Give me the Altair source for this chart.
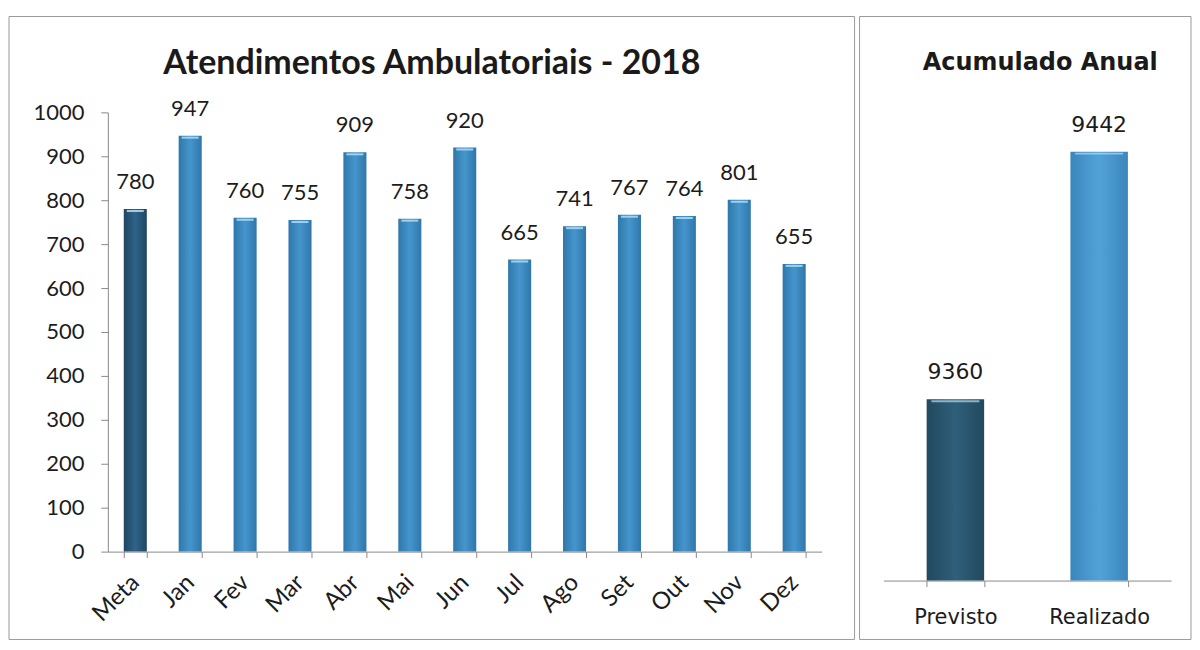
import altair as alt
import pandas as pd

# ---- data ----
months = ["Meta", "Jan", "Fev", "Mar", "Abr", "Mai", "Jun", "Jul", "Ago", "Set", "Out", "Nov", "Dez"]
attendances = [780, 947, 760, 755, 909, 758, 920, 665, 741, 767, 764, 801, 655]

acc_labels = ["Previsto", "Realizado"]
acc_values = [9360, 9442]

left_df = pd.DataFrame({"cat": months, "val": attendances})
right_df = pd.DataFrame({"cat": acc_labels, "val": acc_values})


def grad(edge, mid):
    return alt.Gradient(
        gradient="linear",
        stops=[
            alt.GradientStop(offset=0, color=edge),
            alt.GradientStop(offset=0.5, color=mid),
            alt.GradientStop(offset=1, color=edge),
        ],
        x1=0, x2=1, y1=0, y2=0,
    )


DARK = grad("#1f4762", "#2e6388")
LIGHT = grad("#2f77aa", "#4595cc")
DARK_R = grad("#22495f", "#2f5f7a")
LIGHT_R = grad("#3a86bd", "#52a2d8")

TEXT = "#1c1c1c"
AXIS = "#8a8a8a"
FRAME = "#9a9a9a"
NOVIEW = alt.ViewBackground(stroke="transparent", strokeWidth=0)
frame_data = alt.Data(values=[{"f": 1}])

# ---- left chart ----
lx = alt.X(
    "cat:N",
    scale=alt.Scale(domain=months, paddingInner=0.58, paddingOuter=0.29),
    axis=alt.Axis(
        title=None, labelAngle=-45, labelAlign="right", labelBaseline="middle",
        tickBand="extent", tickSize=6, labelPadding=21,
        labelFont="Lato", labelFontSize=24, labelColor=TEXT,
        domainColor=AXIS, tickColor=AXIS,
    ),
)
ly = alt.Y(
    "val:Q",
    scale=alt.Scale(domain=[0, 1000], nice=False),
    axis=alt.Axis(
        title=None, grid=False, values=list(range(0, 1001, 100)), format="d", tickSize=7,
        labelPadding=17, labelFont="Lato", labelFontSize=22, labelColor=TEXT,
        domainColor=AXIS, tickColor=AXIS,
    ),
)

lbase = alt.Chart(left_df)
l_meta = lbase.transform_filter(alt.datum.cat == "Meta").mark_bar(color=DARK).encode(x=lx, y=ly)
l_month = lbase.transform_filter(alt.datum.cat != "Meta").mark_bar(color=LIGHT).encode(x=lx, y=ly)
l_cap = lbase.mark_tick(color="#a8d8f2", thickness=2, size=17, yOffset=2, opacity=0.9).encode(x=lx, y=ly)
l_text = lbase.mark_text(dy=-20, baseline="alphabetic", font="Lato", fontSize=22, color=TEXT).encode(
    x=lx, y=ly, text="val:Q"
)
l_frame = alt.Chart(frame_data).mark_rect(fill=None, stroke=FRAME, strokeWidth=1).encode(
    x=alt.value(-99), x2=alt.value(748), y=alt.value(-96), y2=alt.value(528)
)

left = alt.layer(l_frame, l_meta, l_month, l_cap, l_text).properties(
    width=715,
    height=440,
    view=NOVIEW,
    title=alt.TitleParams(
        "Atendimentos Ambulatoriais - 2018", font="Lato", fontSize=34,
        fontWeight="bold", color="#1a1a1a", offset=-65, dx=-33,
    ),
)

# ---- right chart ----
rx = alt.X(
    "cat:N",
    scale=alt.Scale(domain=acc_labels, paddingInner=0.6, paddingOuter=0.3),
    axis=alt.Axis(
        title=None, labelAngle=0, tickBand="extent", tickSize=6,
        labelPadding=20, labelFont="DejaVu Sans", labelFontSize=21, labelColor=TEXT,
        domainColor=AXIS, tickColor=AXIS,
    ),
)
ry = alt.Y(
    "val:Q",
    scale=alt.Scale(domain=[9300, 9455], nice=False, zero=False),
    axis=None,
)

rbase = alt.Chart(right_df)
r_prev = rbase.transform_filter(alt.datum.cat == "Previsto").mark_bar(color=DARK_R, clip=True).encode(x=rx, y=ry)
r_real = rbase.transform_filter(alt.datum.cat == "Realizado").mark_bar(color=LIGHT_R, clip=True).encode(x=rx, y=ry)
r_cap = rbase.mark_tick(color="#b5dcf2", thickness=2, size=48, yOffset=2, opacity=0.7).encode(x=rx, y=ry)
r_text = rbase.mark_text(dy=-20, baseline="alphabetic", font="DejaVu Sans", fontSize=22, color=TEXT).encode(
    x=rx, y=ry, text="val:Q"
)
r_frame = alt.Chart(frame_data).mark_rect(fill=None, stroke=FRAME, strokeWidth=1).encode(
    x=alt.value(-24), x2=alt.value(308), y=alt.value(-96), y2=alt.value(528)
)

right = alt.layer(r_frame, r_prev, r_real, r_cap, r_text).properties(
    width=288,
    height=469,
    view=NOVIEW,
    title=alt.TitleParams(
        "Acumulado Anual", font="DejaVu Sans", fontSize=24,
        fontWeight="bold", color="#1a1a1a", offset=-59, dx=13,
    ),
)

chart = (
    alt.hconcat(left, right, spacing=3)
    .properties(padding={"top": 7, "left": 0, "right": 0, "bottom": 0})
    .configure_view(stroke="transparent", strokeWidth=0)
    .configure(background="white")
)

chart.save("out.html", embed_options={"renderer": "svg", "actions": False})
